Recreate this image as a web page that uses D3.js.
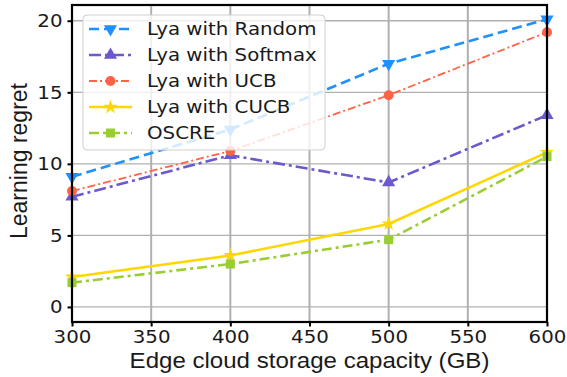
<!DOCTYPE html>
<html lang="en">
<head>
<meta charset="UTF-8">
<title>Learning regret vs storage capacity</title>
<script src="https://d3js.org/d3.v7.min.js"></script>
<style>
  body { margin: 0; background: #fff; }
  svg text { font-family: "DejaVu Sans", sans-serif; fill: #1a1a1a; }
  svg text.axis-label { font-family: "Liberation Sans", Arial, sans-serif; }
</style>
</head>
<body>
<div id="chart"></div>
<script>
  // data
  const capacities = [300, 400, 500, 600];
  const xTicks = [300, 350, 400, 450, 500, 550, 600];
  const yTicks = [0, 5, 10, 15, 20];
  const seriesNames = ["Lya with Random", "Lya with Softmax", "Lya with UCB", "Lya with CUCB", "OSCRE"];
  const randomVals  = [9.1, 12.4, 17.0, 20.1];
  const softmaxVals = [7.7, 10.6, 8.7, 13.4];
  const ucbVals     = [8.1, 10.9, 14.8, 19.2];
  const cucbVals    = [2.1, 3.6, 5.8, 10.8];
  const oscreVals   = [1.7, 3.0, 4.7, 10.5];

  const width = 567, height = 377;
  const margin = { top: 5, right: 20, bottom: 55, left: 72 };
  const stretch = 1.1; // the original figure text is a bit wide

  const styles = [
    { color: "#1E90FF", dash: "10,5",       w: 2.6, marker: "tridown" },
    { color: "#6A5ACD", dash: "12,4,3,4",   w: 2.6, marker: "triup" },
    { color: "#FF6347", dash: "8,3,2,3",    w: 1.8, marker: "circle" },
    { color: "#FFD700", dash: null,         w: 2.6, marker: "star" },
    { color: "#9ACD32", dash: "10,4,3,4",   w: 2.6, marker: "square" }
  ];
  const allVals = [randomVals, softmaxVals, ucbVals, cucbVals, oscreVals];
  const series = seriesNames.map((name, i) => ({ name, values: allVals[i], ...styles[i] }));

  const svg = d3.select("#chart").append("svg")
      .attr("width", width).attr("height", height);

  const x = d3.scaleLinear().domain([300, 600]).range([margin.left, width - margin.right]);
  const y = d3.scaleLinear().domain([-1.05, 21.1]).range([height - margin.bottom, margin.top]);

  // grid
  svg.append("g").selectAll("line").data(xTicks).join("line")
      .attr("x1", d => x(d)).attr("x2", d => x(d))
      .attr("y1", y.range()[0]).attr("y2", y.range()[1])
      .attr("stroke", "#b0b0b0").attr("stroke-width", 2);
  svg.append("g").selectAll("line").data(yTicks).join("line")
      .attr("x1", x.range()[0]).attr("x2", x.range()[1])
      .attr("y1", d => y(d)).attr("y2", d => y(d))
      .attr("stroke", "#b0b0b0").attr("stroke-width", 1.3);

  // axes
  const xAxis = svg.append("g")
      .attr("transform", `translate(0,${height - margin.bottom})`)
      .call(d3.axisBottom(x).tickValues(xTicks).tickSize(4.5).tickPadding(4).tickFormat(d3.format("d")));
  const yAxis = svg.append("g")
      .attr("transform", `translate(${margin.left},0)`)
      .call(d3.axisLeft(y).tickValues(yTicks).tickSize(4.5).tickPadding(5));
  [xAxis, yAxis].forEach(g => {
    g.select(".domain").remove();
    g.selectAll(".tick line").attr("stroke", "#000").attr("stroke-width", 2);
    g.selectAll(".tick text").attr("font-size", 18).attr("fill", "#1a1a1a");
  });
  xAxis.selectAll(".tick text").attr("transform", `scale(${stretch},1)`);
  yAxis.selectAll(".tick text").each(function() {
    const tx = +d3.select(this).attr("x");
    d3.select(this).attr("x", 0).attr("transform", `translate(${tx},0) scale(${stretch},1)`);
  });

  // lines
  const line = d3.line().x((d, i) => x(capacities[i])).y(d => y(d));
  const star = d3.symbol().type(d3.symbolStar).size(65);
  const tri = d3.symbol().type(d3.symbolTriangle).size(75);

  function drawMarker(g, type, color, cx, cy) {
    if (type === "circle") {
      g.append("circle").attr("cx", cx).attr("cy", cy).attr("r", 5).attr("fill", color);
    } else if (type === "square") {
      g.append("rect").attr("x", cx - 4.5).attr("y", cy - 4.5).attr("width", 9).attr("height", 9).attr("fill", color);
    } else if (type === "star") {
      g.append("path").attr("d", star).attr("transform", `translate(${cx},${cy})`).attr("fill", color);
    } else {
      const rot = type === "tridown" ? 180 : 0;
      g.append("path").attr("d", tri).attr("transform", `translate(${cx},${cy}) rotate(${rot})`).attr("fill", color);
    }
  }

  const plot = svg.append("g");
  series.forEach(s => {
    plot.append("path").datum(s.values)
        .attr("d", line).attr("fill", "none")
        .attr("stroke", s.color).attr("stroke-width", s.w)
        .attr("stroke-dasharray", s.dash);
    s.values.forEach((v, i) => drawMarker(plot, s.marker, s.color, x(capacities[i]), y(v)));
  });

  // frame
  svg.append("rect")
      .attr("x", x.range()[0]).attr("y", y.range()[1])
      .attr("width", x.range()[1] - x.range()[0]).attr("height", y.range()[0] - y.range()[1])
      .attr("fill", "none").attr("stroke", "#000").attr("stroke-width", 2.2);

  // legend
  const leg = svg.append("g").attr("transform", "translate(83,15)");
  leg.append("rect").attr("width", 242).attr("height", 135).attr("rx", 4)
      .attr("fill", "#fff").attr("fill-opacity", 0.8)
      .attr("stroke", "#d0d0d0").attr("stroke-width", 1);
  series.forEach((s, i) => {
    const cy = 14 + i * 26;
    const row = leg.append("g");
    row.append("line").attr("x1", 6).attr("x2", 49).attr("y1", cy).attr("y2", cy)
        .attr("stroke", s.color).attr("stroke-width", s.w).attr("stroke-dasharray", s.dash);
    drawMarker(row, s.marker, s.color, 27.5, cy);
    row.append("text").attr("transform", `translate(64,${cy}) scale(${stretch},1)`)
        .attr("dy", "0.36em").attr("font-size", 18).text(s.name);
  });

  // axis labels
  svg.append("text").attr("class", "axis-label")
      .attr("transform", `translate(${(x.range()[0] + x.range()[1]) / 2},368) scale(1.12,1)`)
      .attr("text-anchor", "middle").attr("font-size", 21.5)
      .text("Edge cloud storage capacity (GB)");
  svg.append("text").attr("class", "axis-label")
      .attr("transform", `translate(27,161) rotate(-90)`)
      .attr("text-anchor", "middle").attr("font-size", 23)
      .text("Learning regret");
</script>
</body>
</html>
